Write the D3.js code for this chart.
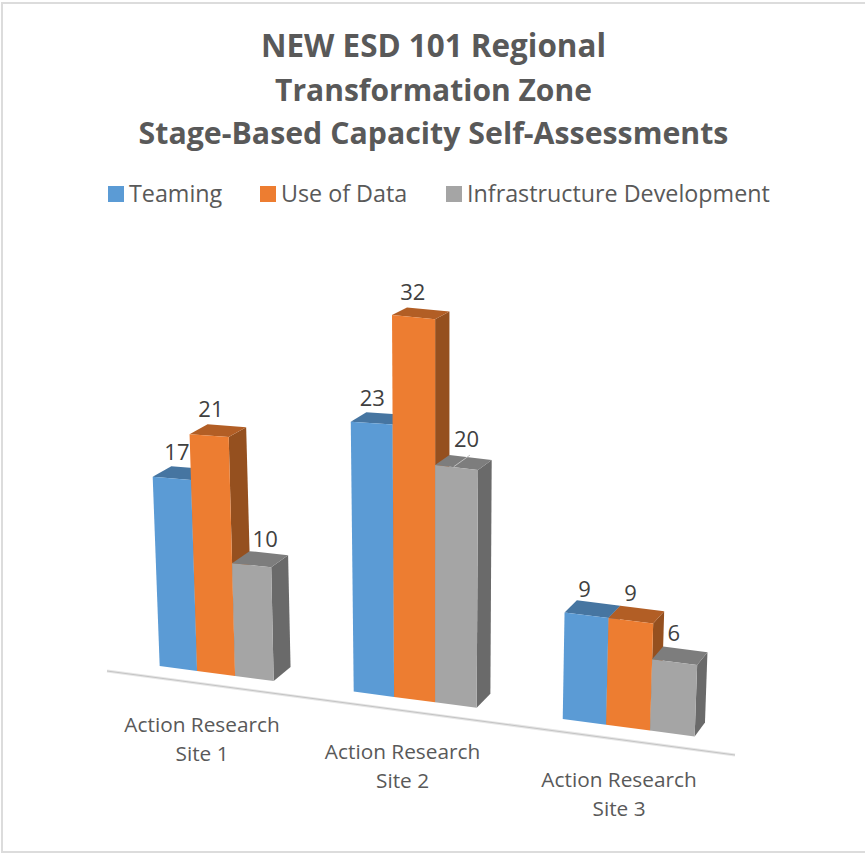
<!DOCTYPE html>
<html>
<head>
<meta charset="utf-8">
<script src="https://cdnjs.cloudflare.com/ajax/libs/d3/7.8.5/d3.min.js"></script>
<style>
    html, body { margin: 0; padding: 0; background: #fff; }
    svg { display: block; }
    text { font-family: "Open Sans", sans-serif; }
</style>
</head>
<body>
<svg id="svg" width="865" height="853"></svg>
<script>
var titleLines = ['NEW ESD 101 Regional', 'Transformation Zone', 'Stage-Based Capacity Self-Assessments'];
var sites = ['Action Research Site 1', 'Action Research Site 2', 'Action Research Site 3'];
var seriesNames = ['Teaming', 'Use of Data', 'Infrastructure Development'];
var teaming = [17, 23, 9];
var useOfData = [21, 32, 9];
var infrastructure = [10, 20, 6];
var seriesValues = [teaming, useOfData, infrastructure];

var frontColors = ['#5b9bd5', '#ed7d31', '#a5a5a5'];
var topColors = ['#4675a1', '#b25e25', '#7d7d7d'];
var sideColors = ['#3e6890', '#95501f', '#6a6a6a'];

var svg = d3.select('#svg');

// the 3d look: category position u, value v, depth w -> picture
var siteScale = d3.scaleBand().domain(sites).range([0, 3]).paddingInner(0.403).paddingOuter(0.2015);
var barScale = d3.scaleBand().domain(seriesNames).range([0, siteScale.bandwidth()]);
var unitScale = d3.scaleLinear().domain([200, 400, 630]).range([11.1, 11.65, 11.8]);
var depthX = d3.scaleLinear().domain([200, 650]).range([18, 11]);

function project(u, v, w) {
    var x0 = 122.4 + 183.5 * u + 7.5 * u * u;
    var y0 = 666 + 0.1315 * (x0 - 159);
    var h = v * unitScale(x0) * (1 + v * 0.0008);
    return [
        x0 + (x0 - 435) * 0.000134 * h + w * depthX(x0),
        y0 - h - w * (14 - 0.2 * v)
    ];
}

function poly(points) {
    return d3.line()(points) + 'Z';
}

// frame, the right side runs off the picture
svg.append('rect')
    .attr('x', 2).attr('y', 3)
    .attr('width', 880).attr('height', 849)
    .attr('fill', '#fff')
    .attr('stroke', '#dcdcdc')
    .attr('stroke-width', 2);

// title
var titleSizes = [31.4, 30, 30.3];
svg.append('g').selectAll('text')
    .data(titleLines)
    .enter().append('text')
    .attr('x', 433.5)
    .attr('y', function(d, i) { return 57 + i * 43.5; })
    .attr('text-anchor', 'middle')
    .attr('font-size', function(d, i) { return titleSizes[i]; })
    .attr('font-weight', 700)
    .attr('fill', '#595959')
    .text(function(d) { return d; });

// legend
var legendX = [108, 260, 446];
var legend = svg.append('g').selectAll('g')
    .data(seriesNames)
    .enter().append('g')
    .attr('transform', function(d, i) { return 'translate(' + legendX[i] + ',186)'; });
legend.append('rect')
    .attr('width', 16).attr('height', 16)
    .attr('fill', function(d, i) { return frontColors[i]; });
legend.append('text')
    .attr('x', 21).attr('y', 16)
    .attr('font-size', 23.3)
    .attr('fill', '#595959')
    .text(function(d) { return d; });

// floor line
var floorX = d3.scaleLinear().domain([0, 3]).range([107, 735]);
var floorY = d3.scaleLinear().domain([0, 3]).range([671, 755]);
var floorLine = d3.line()([[floorX(0), floorY(0)], [floorX(3), floorY(3)]]);
svg.append('path')
    .attr('d', floorLine)
    .attr('fill', 'none')
    .attr('stroke', '#e6e6e6')
    .attr('stroke-width', 3);
svg.append('path')
    .attr('d', floorLine)
    .attr('fill', 'none')
    .attr('stroke', '#c4c4c4')
    .attr('stroke-width', 1);

// bars
sites.forEach(function(site, s) {
    var group = svg.append('g').attr('class', 'site');
    seriesNames.forEach(function(name, k) {
        var v = seriesValues[k][s];
        var u0 = siteScale(site) + barScale(name);
        var u1 = u0 + barScale.bandwidth();
        var bar = group.append('g');
        bar.append('path')
            .attr('fill', sideColors[k])
            .attr('d', poly([project(u1, 0, 0), project(u1, 0, 1), project(u1, v, 1), project(u1, v, 0)]));
        bar.append('path')
            .attr('fill', topColors[k])
            .attr('d', poly([project(u0, v, 0), project(u0, v, 1), project(u1, v, 1), project(u1, v, 0)]));
        bar.append('path')
            .attr('fill', frontColors[k])
            .attr('d', poly([project(u0, 0, 0), project(u1, 0, 0), project(u1, v, 0), project(u0, v, 0)]));
    });
});

// little leader line on the grey bar of site 2
var leaderU = siteScale(sites[1]) + barScale(seriesNames[2]) + barScale.bandwidth() * 0.42;
svg.append('path')
    .attr('d', d3.line()([project(leaderU, infrastructure[1], 0.05), project(leaderU, infrastructure[1], 1.2)]))
    .attr('stroke', '#bfbfbf')
    .attr('fill', 'none');

// data labels, excel placed these by hand more or less
var labelDx = [[-4, -7, 5], [-7, -8, 3], [-8, -6, -6]];
var labelDy = [[-21, -21, -20], [-20, -21, -23], [-20, -21, -22]];
sites.forEach(function(site, s) {
    seriesNames.forEach(function(name, k) {
        var v = seriesValues[k][s];
        var uMid = siteScale(site) + barScale(name) + barScale.bandwidth() / 2;
        var p = project(uMid, v, 0.5);
        svg.append('text')
            .attr('x', p[0] + labelDx[s][k])
            .attr('y', p[1] + labelDy[s][k])
            .attr('text-anchor', 'middle')
            .attr('dy', '0.35em')
            .attr('font-size', 22)
            .attr('fill', '#404040')
            .text(v);
    });
});

// category labels
var siteLabelDx = [-14, -12, -9];
sites.forEach(function(site, s) {
    var u = siteScale(site) + siteScale.bandwidth() / 2;
    var p = project(u, 0, 0);
    var words = site.split(' ');
    var lines = [words.slice(0, 2).join(' '), words.slice(2).join(' ')];
    svg.append('g').selectAll('text')
        .data(lines)
        .enter().append('text')
        .attr('x', p[0] + siteLabelDx[s])
        .attr('y', function(d, i) { return p[1] + 59 + i * 29; })
        .attr('text-anchor', 'middle')
        .attr('font-size', 20.8)
        .attr('fill', '#595959')
        .text(function(d) { return d; });
});
</script>
</body>
</html>
